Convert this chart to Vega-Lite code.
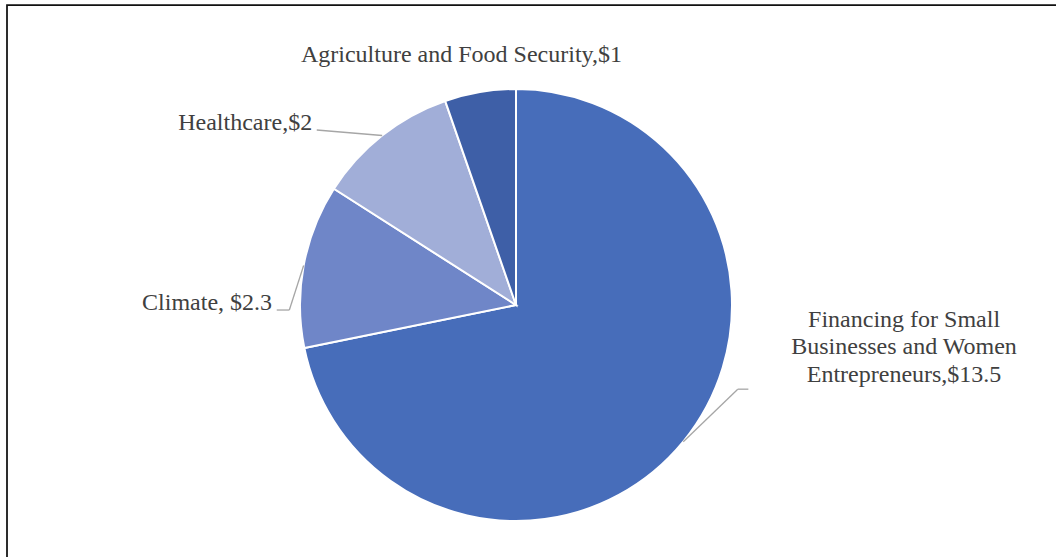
{
  "$schema": "https://vega.github.io/schema/vega-lite/v6.json",
  "width": 1080,
  "height": 600,
  "autosize": "none",
  "padding": {"left": 7, "top": 5, "right": -31, "bottom": -48},
  "background": "#ffffff",
  "config": {
    "view": {"stroke": "#111111", "strokeWidth": 1.75}
  },
  "data": {
    "values": [
      {"category": "Financing for Small Businesses and Women Entrepreneurs", "value": 13.5, "label": "Financing for Small\nBusinesses and Women\nEntrepreneurs,$13.5"},
      {"category": "Climate", "value": 2.3, "label": "Climate, $2.3"},
      {"category": "Healthcare", "value": 2, "label": "Healthcare,$2"},
      {"category": "Agriculture and Food Security", "value": 1, "label": "Agriculture and Food Security,$1"}
    ]
  },
  "transform": [
    {"stack": "value", "groupby": [], "sort": [{"field": "value", "order": "descending"}], "as": ["v0", "v1"]},
    {"joinaggregate": [{"op": "sum", "field": "value", "as": "total"}]},
    {"calculate": "PI * (datum.v0 + datum.v1) / datum.total", "as": "ang"},
    {"calculate": "216 * sin(datum.ang)", "as": "ax"},
    {"calculate": "216 * cos(datum.ang)", "as": "ay"}
  ],
  "layer": [
    {
      "mark": {"type": "arc", "outerRadius": 216, "stroke": "#ffffff", "strokeWidth": 2},
      "encoding": {
        "x": {"datum": 0, "type": "quantitative", "scale": {"domain": [-509, 571], "nice": false, "zero": false}, "axis": null},
        "y": {"datum": 0, "type": "quantitative", "scale": {"domain": [-300, 300], "nice": false, "zero": false}, "axis": null},
        "theta": {"field": "value", "type": "quantitative", "stack": true},
        "order": {"field": "value", "sort": "descending"},
        "color": {
          "field": "category",
          "type": "nominal",
          "scale": {
            "domain": ["Financing for Small Businesses and Women Entrepreneurs", "Climate", "Healthcare", "Agriculture and Food Security"],
            "range": ["#476DBA", "#6F86C8", "#A1AED8", "#3E5FA7"]
          },
          "legend": null
        }
      }
    },
    {
      "transform": [
        {"filter": "datum.category === 'Healthcare'"},
        {"calculate": "datum.ax - 65.4", "as": "bx"},
        {"calculate": "datum.ay + 5.5", "as": "by"}
      ],
      "mark": {"type": "rule", "color": "#A6A6A6", "strokeWidth": 1.3},
      "encoding": {
        "x": {"field": "ax", "type": "quantitative", "scale": {"domain": [-509, 571], "nice": false, "zero": false}, "axis": null},
        "y": {"field": "ay", "type": "quantitative", "scale": {"domain": [-300, 300], "nice": false, "zero": false}, "axis": null},
        "x2": {"field": "bx"},
        "y2": {"field": "by"}
      }
    },
    {
      "transform": [
        {"filter": "datum.category === 'Climate'"},
        {"calculate": "datum.ax - 14.3", "as": "bx"},
        {"calculate": "datum.ay - 44.5", "as": "by"}
      ],
      "mark": {"type": "rule", "color": "#A6A6A6", "strokeWidth": 1.3},
      "encoding": {
        "x": {"field": "ax", "type": "quantitative", "scale": {"domain": [-509, 571], "nice": false, "zero": false}, "axis": null},
        "y": {"field": "ay", "type": "quantitative", "scale": {"domain": [-300, 300], "nice": false, "zero": false}, "axis": null},
        "x2": {"field": "bx"},
        "y2": {"field": "by"}
      }
    },
    {
      "transform": [
        {"filter": "datum.category === 'Climate'"},
        {"calculate": "datum.ax - 14.3", "as": "bx"},
        {"calculate": "datum.ax - 26.9", "as": "cx"},
        {"calculate": "datum.ay - 44.5", "as": "by"}
      ],
      "mark": {"type": "rule", "color": "#A6A6A6", "strokeWidth": 1.3},
      "encoding": {
        "x": {"field": "bx", "type": "quantitative", "scale": {"domain": [-509, 571], "nice": false, "zero": false}, "axis": null},
        "y": {"field": "by", "type": "quantitative", "scale": {"domain": [-300, 300], "nice": false, "zero": false}, "axis": null},
        "x2": {"field": "cx"},
        "y2": {"field": "by"}
      }
    },
    {
      "transform": [
        {"filter": "datum.value === 13.5"},
        {"calculate": "datum.ax + 54.5", "as": "bx"},
        {"calculate": "datum.ay + 52.5", "as": "by"}
      ],
      "mark": {"type": "rule", "color": "#A6A6A6", "strokeWidth": 1.3},
      "encoding": {
        "x": {"field": "ax", "type": "quantitative", "scale": {"domain": [-509, 571], "nice": false, "zero": false}, "axis": null},
        "y": {"field": "ay", "type": "quantitative", "scale": {"domain": [-300, 300], "nice": false, "zero": false}, "axis": null},
        "x2": {"field": "bx"},
        "y2": {"field": "by"}
      }
    },
    {
      "transform": [
        {"filter": "datum.value === 13.5"},
        {"calculate": "datum.ax + 54.5", "as": "bx"},
        {"calculate": "datum.ax + 65.1", "as": "cx"},
        {"calculate": "datum.ay + 52.5", "as": "by"}
      ],
      "mark": {"type": "rule", "color": "#A6A6A6", "strokeWidth": 1.3},
      "encoding": {
        "x": {"field": "bx", "type": "quantitative", "scale": {"domain": [-509, 571], "nice": false, "zero": false}, "axis": null},
        "y": {"field": "by", "type": "quantitative", "scale": {"domain": [-300, 300], "nice": false, "zero": false}, "axis": null},
        "x2": {"field": "cx"},
        "y2": {"field": "by"}
      }
    },
    {
      "transform": [{"filter": "datum.value === 13.5"}],
      "mark": {"type": "text", "align": "center", "baseline": "alphabetic", "dx": 220.8, "dy": -115.1, "font": "Liberation Serif", "fontSize": 24, "color": "#404040", "lineHeight": 27.5, "lineBreak": "\n"},
      "encoding": {
        "x": {"field": "ax", "type": "quantitative", "scale": {"domain": [-509, 571], "nice": false, "zero": false}, "axis": null},
        "y": {"field": "ay", "type": "quantitative", "scale": {"domain": [-300, 300], "nice": false, "zero": false}, "axis": null},
        "text": {"field": "label", "type": "nominal"}
      }
    },
    {
      "transform": [{"filter": "datum.category === 'Climate'"}],
      "mark": {"type": "text", "align": "right", "baseline": "alphabetic", "dx": -31.6, "dy": 44.5, "font": "Liberation Serif", "fontSize": 24, "color": "#404040"},
      "encoding": {
        "x": {"field": "ax", "type": "quantitative", "scale": {"domain": [-509, 571], "nice": false, "zero": false}, "axis": null},
        "y": {"field": "ay", "type": "quantitative", "scale": {"domain": [-300, 300], "nice": false, "zero": false}, "axis": null},
        "text": {"field": "label", "type": "nominal"}
      }
    },
    {
      "transform": [{"filter": "datum.category === 'Healthcare'"}],
      "mark": {"type": "text", "align": "right", "baseline": "alphabetic", "dx": -70, "dy": -5.5, "font": "Liberation Serif", "fontSize": 24, "color": "#404040"},
      "encoding": {
        "x": {"field": "ax", "type": "quantitative", "scale": {"domain": [-509, 571], "nice": false, "zero": false}, "axis": null},
        "y": {"field": "ay", "type": "quantitative", "scale": {"domain": [-300, 300], "nice": false, "zero": false}, "axis": null},
        "text": {"field": "label", "type": "nominal"}
      }
    },
    {
      "transform": [{"filter": "datum.category === 'Agriculture and Food Security'"}],
      "mark": {"type": "text", "align": "center", "baseline": "alphabetic", "dx": -18.6, "dy": -29.7, "font": "Liberation Serif", "fontSize": 24, "color": "#404040"},
      "encoding": {
        "x": {"field": "ax", "type": "quantitative", "scale": {"domain": [-509, 571], "nice": false, "zero": false}, "axis": null},
        "y": {"field": "ay", "type": "quantitative", "scale": {"domain": [-300, 300], "nice": false, "zero": false}, "axis": null},
        "text": {"field": "label", "type": "nominal"}
      }
    }
  ]
}
